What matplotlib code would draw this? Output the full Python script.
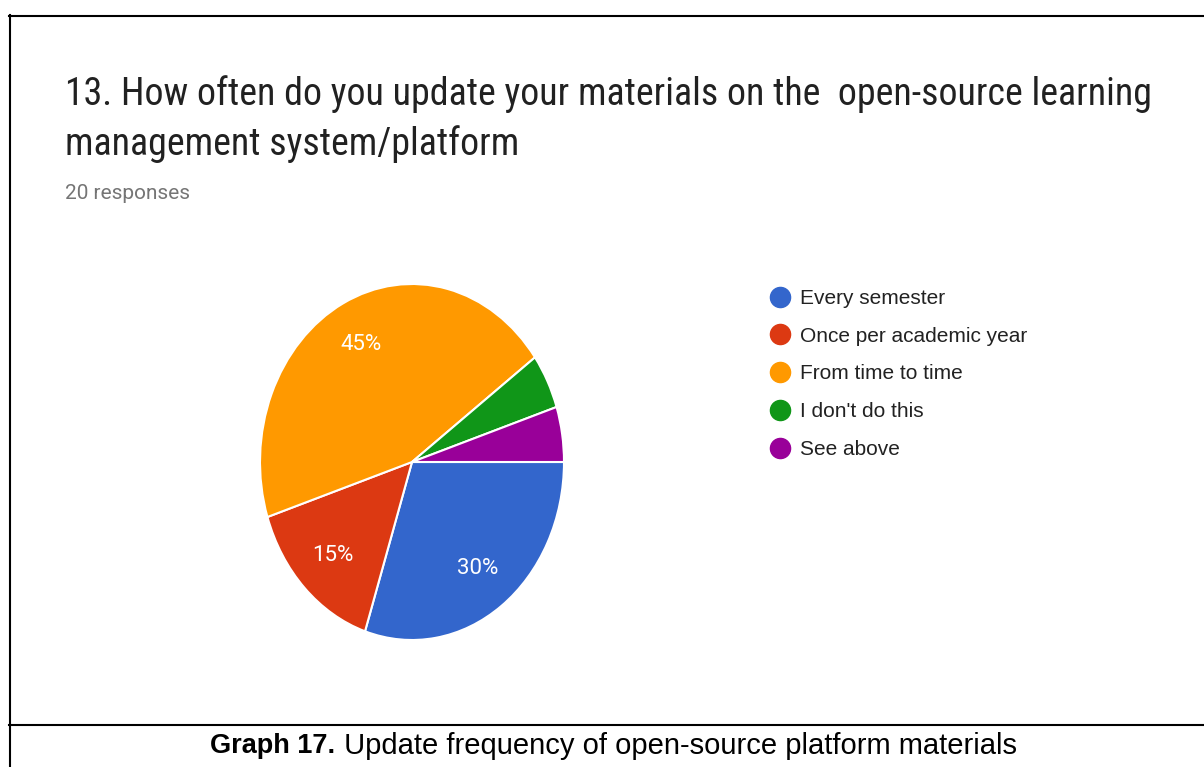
import matplotlib
matplotlib.use("Agg")
import matplotlib.pyplot as plt
from matplotlib.lines import Line2D
from matplotlib import font_manager

# survey answers for question 13
labels = ["Every semester", "Once per academic year", "From time to time",
          "I don't do this", "See above"]
shares = [30, 15, 45, 5, 5]
colors = ["#3366CC", "#DC3912", "#FF9900", "#109618", "#990099"]

question = ["13. How often do you update your materials on the  open-source learning",
            "management system/platform"]
responses = "20 responses"
caption_bold = "Graph 17."
caption_rest = " Update frequency of open-source platform materials"

W, H = 1204, 767


def fx(px):
    return px / W


def fy(py):
    return 1 - py / H


names = {f.name for f in font_manager.fontManager.ttflist}
title_font = ["Roboto Condensed", "Roboto"] if "Roboto Condensed" in names else ["Roboto"]
body_font = ["Liberation Sans", "DejaVu Sans"]

fig = plt.figure(figsize=(W / 100, H / 100), dpi=100)

# frame lines of the table cell
fig.add_artist(Line2D([fx(9), 1], [fy(15.5), fy(15.5)], color="black", lw=1.5))
fig.add_artist(Line2D([fx(9.5), fx(9.5)], [fy(15), 0], color="black", lw=1.5))
fig.add_artist(Line2D([fx(9), 1], [fy(725), fy(725)], color="black", lw=1.5))

# title block
fig.text(fx(65), fy(105), question[0], family=title_font, fontsize=27.3,
         color="#212121", va="baseline")
fig.text(fx(65), fy(155), question[1], family=title_font, fontsize=27.3,
         color="#212121", va="baseline")
fig.text(fx(65), fy(199), responses, family="Roboto", fontsize=15,
         color="#757575", va="baseline")

# pie (slightly taller than wide)
ax = fig.add_axes([fx(260), fy(640), fx(304), 356 / H])
ax.pie(shares, colors=colors, startangle=0, counterclock=False,
       autopct=lambda p: f"{p:.0f}%" if p >= 10 else "",
       pctdistance=0.74,
       wedgeprops=dict(edgecolor="white", linewidth=1.5),
       textprops=dict(color="white", fontsize=16, family="Roboto"))
ax.set_aspect("auto")
ax.set_xlim(-1, 1)
ax.set_ylim(-1, 1)

# legend with round markers
handles = [Line2D([], [], marker="o", linestyle="", markersize=14.5,
                  markerfacecolor=c, markeredgecolor=c) for c in colors]
fig.legend(handles, labels, loc="upper left", bbox_to_anchor=(fx(770), fy(289)),
           frameon=False, prop=dict(family=body_font, size=15),
           labelcolor="#222222", handlelength=1.0, handletextpad=0.45,
           labelspacing=0.9, borderpad=0, borderaxespad=0)

# caption: bold lead-in followed by regular text
renderer = fig.canvas.get_renderer()
t1 = fig.text(0, fy(746), caption_bold, family=body_font, fontsize=19.5,
              fontweight="bold", va="center")
t2 = fig.text(0, fy(746), caption_rest, family=body_font, fontsize=21,
              va="center")
w1 = t1.get_window_extent(renderer).width
w2 = t2.get_window_extent(renderer).width
x0 = 613.5 - (w1 + w2) / 2
t1.set_x(fx(x0))
t2.set_x(fx(x0 + w1))

fig.savefig("out.png", dpi=100)
